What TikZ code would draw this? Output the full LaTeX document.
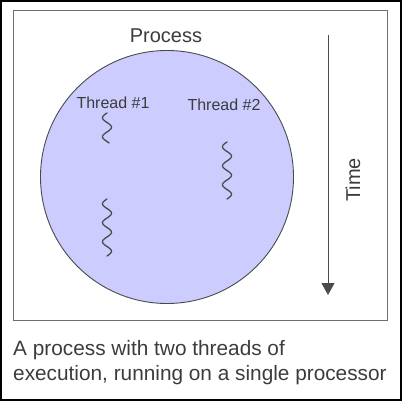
\documentclass[tikz,border=0pt]{standalone}
\usepackage{fontspec}
\setmainfont{Liberation Sans}
\usetikzlibrary{arrows.meta,positioning}
\definecolor{pcfill}{RGB}{204,204,255}
\definecolor{pcline}{RGB}{75,75,75}
\definecolor{pctext}{RGB}{60,60,60}
\definecolor{pcframe}{RGB}{110,110,110}
\tikzstyle{thread} = [line width=1.3pt, color=pcline, line cap=round]
\tikzstyle{label} = [inner sep=0pt, text=pctext, anchor=base]

\begin{document}
\begin{tikzpicture}[x=1pt, y=-1pt]
    \useasboundingbox (0,0) rectangle (402,401);

    % Frames
    \draw[line width=2pt] (1,1) rectangle (401,400);
    \draw[pcframe, line width=1pt] (13,11) rectangle (387,320);

    % Process
    \node[circle, draw=pcline, fill=pcfill, line width=0.9pt, minimum size=253pt, inner sep=0pt] (proc) at (167,177) {};
    \node[label, font=\fontsize{20}{24}\selectfont] (proclabel) at (166,43) {Process};

    % Threads
    \node[label, font=\fontsize{16}{19}\selectfont] (thA) at (113,109) {Thread \#1};
    \node[label, font=\fontsize{16}{19}\selectfont] (thB) at (224,111) {Thread \#2};

    \draw[thread, domain=0:30, samples=60] plot ({107-4.5*sin(\x*18.95)}, {113+\x});
    \draw[thread, domain=0:57, samples=100] plot ({107-4.5*sin(\x*18.95)}, {199+\x});
    \draw[thread, domain=0:57, samples=100] plot ({227-4.5*sin(\x*18.95)}, {142+\x});

    % Time arrow
    \coordinate (ttop) at (328,35);
    \coordinate (tbot) at (328,295);
    \draw[pcline, line width=1pt, -{Triangle[width=13pt,length=12pt]}] (ttop) -- (tbot);
    \node[label, rotate=90, font=\fontsize{20}{24}\selectfont] (time) at (360,180) {Time};

    % Caption
    \node[label, anchor=base west, align=left, font=\fontsize{20.8}{25}\selectfont] (caption) at (13,380)
        {A process with two threads of\\execution, running on a single processor};
\end{tikzpicture}
\end{document}
